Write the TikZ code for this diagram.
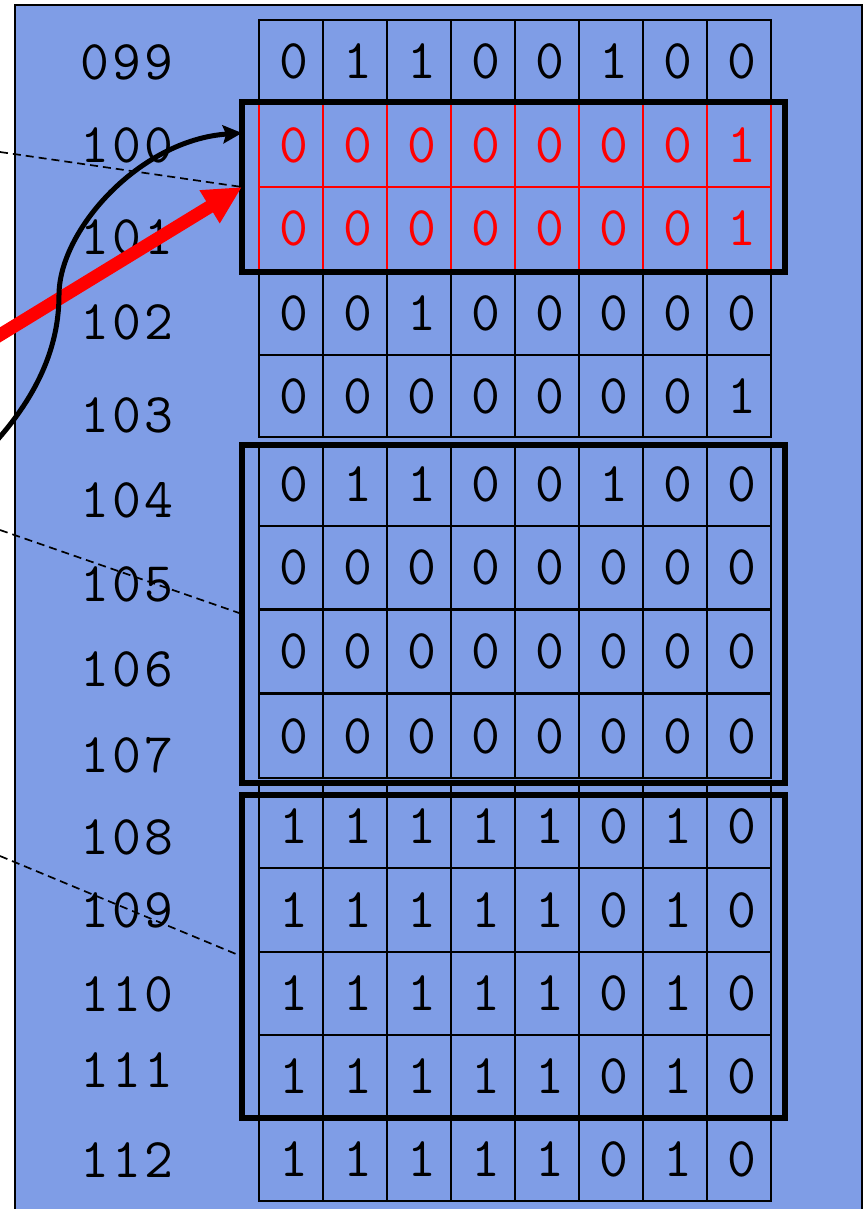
\documentclass[tikz,border=0pt]{standalone}
\usepackage{fontspec}
\newfontfamily\monofont[LetterSpace=5.5]{Latin Modern Mono}
\newfontfamily\cellfont{Latin Modern Mono}
\usetikzlibrary{arrows.meta,calc}
\definecolor{bgblue}{RGB}{127,157,230}
\begin{document}
\begin{tikzpicture}[x=1pt,y=-1pt,
  cell/.style={draw, line width=2.2pt, inner sep=0pt, outer sep=0pt, minimum width=64pt,
    font=\cellfont\fontsize{56}{60}\selectfont},
  lbl/.style={inner sep=0pt, font=\monofont\fontsize{56}{60}\selectfont},
  tbox/.style={draw, line width=6pt, inner sep=0pt, outer sep=0pt, minimum width=543pt},
  dashline/.style={line width=1.7pt, dash pattern=on 8pt off 5pt}]
\clip (0,0) rectangle (864,1209);
\fill[bgblue] (15,5) rectangle (862,1220);
\draw[line width=2.2pt] (15,1220) -- (15,5) -- (862,5) -- (862,1220);
% cells
\foreach \lab/\rt/\rb/\col/\ka/\kb/\kc/\kd/\ke/\kf/\kg/\kh in {
  099/20/103/black/0/1/1/0/0/1/0/0,
  102/272/355/black/0/0/1/0/0/0/0/0,
  103/355/437/black/0/0/0/0/0/0/0/1,
  104/443/526/black/0/1/1/0/0/1/0/0,
  105/526/609/black/0/0/0/0/0/0/0/0,
  106/610/693/black/0/0/0/0/0/0/0/0,
  107/694/778/black/0/0/0/0/0/0/0/0,
  108/784/868/black/1/1/1/1/1/0/1/0,
  109/868/952/black/1/1/1/1/1/0/1/0,
  110/952/1035/black/1/1/1/1/1/0/1/0,
  111/1035/1118/black/1/1/1/1/1/0/1/0,
  112/1118/1201/black/1/1/1/1/1/0/1/0,
  100/103/187/red/0/0/0/0/0/0/0/1,
  101/187/270/red/0/0/0/0/0/0/0/1}{
  \pgfmathsetmacro\hh{\rb-\rt}
  \pgfmathsetmacro\yc{(\rt+\rb)/2}
  \foreach \v [count=\i] in {\ka,\kb,\kc,\kd,\ke,\kf,\kg,\kh}{
    \node[cell, draw=\col, text=\col, minimum height=\hh pt] (c\lab-\i) at ({227+64*\i},\yc) {\kern5pt\v};
  }
}
% address labels
\foreach \lab/\y in {099/62,100/145,101/237,102/322,103/415,104/500,105/584,
  106/669,107/755,108/837,109/910,110/994,111/1070,112/1160}{
  \node[lbl] (l\lab) at (127,\y) {\lab};
}
% thick group boxes
\node[tbox, minimum height=170pt] (b1) at (513.5,187) {};
\node[tbox, minimum height=338pt] (b2) at (513.5,614) {};
\node[tbox, minimum height=323pt] (b3) at (513.5,956.5) {};
% dashed pointers
\coordinate (d1) at (0,152);
\coordinate (d2) at (0,530);
\coordinate (d3) at (0,856);
\draw[dashline] (d1) -- (b1.west);
\draw[dashline] (d2) -- (b2.west);
\draw[dashline] (d3) -- (b3.west);
% red arrow
\coordinate (rs) at (-10,341);
\draw[red, line width=13pt, -{Triangle[length=38pt,width=36pt]}] (rs) -- (b1.west);
% black curved arrow
\coordinate (cs) at (-10,448);
\coordinate (ct) at (242,133);
\draw[line width=5pt, -{Stealth[length=19pt,width=18pt,inset=3pt]}]
  (cs) .. controls (30,405) and (59,355) .. (59,295)
       .. controls (59,230) and (140,140) .. (ct);
\end{tikzpicture}
\end{document}
